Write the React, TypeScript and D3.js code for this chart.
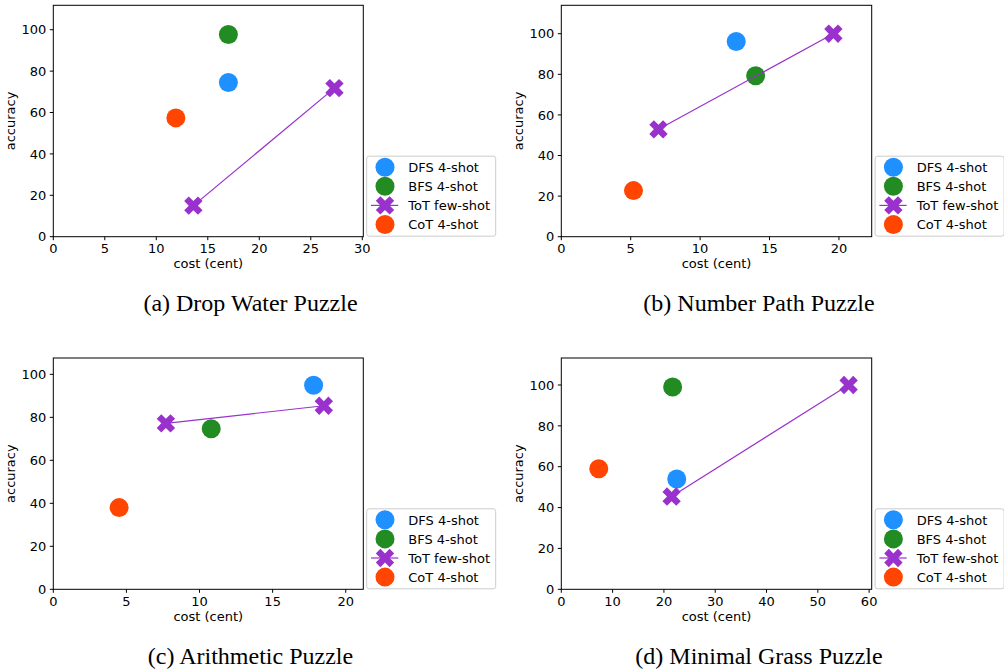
import * as d3 from 'd3'

const W = 1004, H = 669

// chart data
const titles = ['(a) Drop Water Puzzle', '(b) Number Path Puzzle', '(c) Arithmetic Puzzle', '(d) Minimal Grass Puzzle']
const seriesNames = ['DFS 4-shot', 'BFS 4-shot', 'ToT few-shot', 'CoT 4-shot']
const xMax = [30.1, 22.36, 21.2, 60.5]
const yMax = [111.8, 114, 107.6, 113.2]
const xTicks = [[0, 5, 10, 15, 20, 25, 30], [0, 5, 10, 15, 20], [0, 5, 10, 15, 20], [0, 10, 20, 30, 40, 50, 60]]
const yTicks = [0, 20, 40, 60, 80, 100]

const dfsCost = [17, 12.6, 17.8, 22.5]
const dfsAcc = [74.5, 96.2, 94.9, 54]
const bfsCost = [17, 14, 10.8, 21.7]
const bfsAcc = [97.7, 79.3, 74.7, 99]
const totCost = [[13.6, 27.3], [7, 19.6], [7.7, 18.5], [21.5, 56]]
const totAcc = [[15, 71.8], [52.9, 100], [77.2, 85.4], [45.4, 100]]
const cotCost = [11.9, 5.2, 4.5, 7.3]
const cotAcc = [57.4, 22.7, 38, 59]

const C_DFS = '#1e90ff', C_BFS = '#228b22', C_TOT = '#9932cc', C_COT = '#ff4500'
const SANS = '"DejaVu Sans", sans-serif'

// layout per panel (left/right columns, top/bottom rows)
const COLS = [[53.3, 363.3], [561.3, 871.7]]
const ROWS = [[5.3, 236.7], [358, 589.3]]
const CAPTION_X = [250.5, 759]

const R = 9.5
const XS = 19.5
// matplotlib 'X' marker: filled plus rotated 45deg
function xMarker(cx: number, cy: number, s: number) {
  const pts = [[-1, -3], [1, -3], [1, -1], [3, -1], [3, 1], [1, 1], [1, 3], [-1, 3], [-1, 1], [-3, 1], [-3, -1], [-1, -1]]
  const c = Math.SQRT1_2
  return 'M' + pts.map(([a, b]) => {
    const x = a / 6 * s, y = b / 6 * s
    return `${cx + x * c - y * c},${cy + x * c + y * c}`
  }).join('L') + 'Z'
}

function Panel({ i }: { i: number }) {
  const [x0, x1] = COLS[i % 2]
  const [y0, y1] = ROWS[Math.floor(i / 2)]
  const x = d3.scaleLinear().domain([0, xMax[i]]).range([x0, x1])
  const y = d3.scaleLinear().domain([0, yMax[i]]).range([y1, y0])
  const line = d3.line<number>().x(d => x(totCost[i][d])).y(d => y(totAcc[i][d]))

  const lx = x1 + 3.4, ly = y1 - 80.5
  const rowY = (k: number) => ly + 11 + k * 19.1

  return (
    <g>
      {/* ticks + labels */}
      {yTicks.map(t => (
        <g key={'y' + t}>
          <line x1={x0 - 3.5} x2={x0} y1={y(t)} y2={y(t)} stroke="#000" strokeWidth={1} />
          <text x={x0 - 7} y={y(t) + 4.7} textAnchor="end" fontSize={13} fontFamily={SANS}>{t}</text>
        </g>
      ))}
      {xTicks[i].map(t => (
        <g key={'x' + t}>
          <line x1={x(t)} x2={x(t)} y1={y1} y2={y1 + 3.5} stroke="#000" strokeWidth={1} />
          <text x={x(t)} y={y1 + 16.5} textAnchor="middle" fontSize={13} fontFamily={SANS}>{t}</text>
        </g>
      ))}
      <text x={(x0 + x1) / 2} y={y1 + 31.5} textAnchor="middle" fontSize={13} fontFamily={SANS}>cost (cent)</text>
      <text transform={`translate(${x0 - 38},${(y0 + y1) / 2}) rotate(-90)`} textAnchor="middle" fontSize={13} fontFamily={SANS}>accuracy</text>

      {/* marks */}
      <circle cx={x(dfsCost[i])} cy={y(dfsAcc[i])} r={R} fill={C_DFS} />
      <circle cx={x(bfsCost[i])} cy={y(bfsAcc[i])} r={R} fill={C_BFS} />
      <path d={line([0, 1]) || ''} stroke={C_TOT} strokeWidth={1.2} fill="none" />
      {totCost[i].map((c, k) => (
        <path key={k} d={xMarker(x(c), y(totAcc[i][k]), XS)} fill={C_TOT} />
      ))}
      <circle cx={x(cotCost[i])} cy={y(cotAcc[i])} r={R} fill={C_COT} />

      <rect x={x0} y={y0} width={x1 - x0} height={y1 - y0} fill="none" stroke="#000" strokeWidth={1} />

      {/* legend */}
      <rect x={lx} y={ly} width={129} height={80} rx={2.5} fill="#fff" fillOpacity={0.8} stroke="#cccccc" strokeWidth={1} />
      <circle cx={lx + 18.3} cy={rowY(0)} r={R} fill={C_DFS} />
      <circle cx={lx + 18.3} cy={rowY(1)} r={R} fill={C_BFS} />
      <line x1={lx + 4.3} x2={lx + 31.6} y1={rowY(2)} y2={rowY(2)} stroke={C_TOT} strokeWidth={1.2} />
      <path d={xMarker(lx + 18.3, rowY(2), XS)} fill={C_TOT} />
      <circle cx={lx + 18.3} cy={rowY(3)} r={R} fill={C_COT} />
      {seriesNames.map((n, k) => (
        <text key={n} x={lx + 41.6} y={rowY(k) + 4.7} fontSize={13} fontFamily={SANS}>{n}</text>
      ))}

      <text x={CAPTION_X[i % 2]} y={y1 + 74.5} textAnchor="middle" fontSize={24} fontFamily='"Liberation Serif", "Times New Roman", serif'>{titles[i]}</text>
    </g>
  )
}

export default function App() {
  return (
    <svg width={W} height={H} style={{ position: 'absolute', left: 0, top: 0, background: '#fff' }}>
      {[0, 1, 2, 3].map(i => <Panel key={i} i={i} />)}
    </svg>
  )
}
